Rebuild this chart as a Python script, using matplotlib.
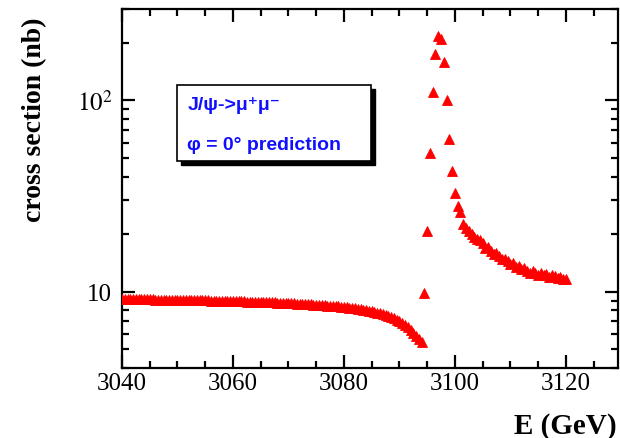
import matplotlib
matplotlib.use("Agg")
import matplotlib.pyplot as plt
from matplotlib.patches import Rectangle
from matplotlib.ticker import MultipleLocator, LogLocator, NullFormatter, FixedLocator, FixedFormatter

plt.rcParams['mathtext.fontset'] = 'stix'

# 扫描能量点 (GeV) —— 共振峰以下的连续部分
e_low = [
    3040.0, 3040.5, 3041.0, 3041.5, 3042.0, 3042.5, 3043.0, 3043.5, 3044.0, 3044.5,
    3045.0, 3045.5, 3046.0, 3046.5, 3047.0, 3047.5, 3048.0, 3048.5, 3049.0, 3049.5,
    3050.0, 3050.5, 3051.0, 3051.5, 3052.0, 3052.5, 3053.0, 3053.5, 3054.0, 3054.5,
    3055.0, 3055.5, 3056.0, 3056.5, 3057.0, 3057.5, 3058.0, 3058.5, 3059.0, 3059.5,
    3060.0, 3060.5, 3061.0, 3061.5, 3062.0, 3062.5, 3063.0, 3063.5, 3064.0, 3064.5,
    3065.0, 3065.5, 3066.0, 3066.5, 3067.0, 3067.5, 3068.0, 3068.5, 3069.0, 3069.5,
    3070.0, 3070.5, 3071.0, 3071.5, 3072.0, 3072.5, 3073.0, 3073.5, 3074.0, 3074.5,
    3075.0, 3075.5, 3076.0, 3076.5, 3077.0, 3077.5, 3078.0, 3078.5, 3079.0, 3079.5,
    3080.0, 3080.5, 3081.0, 3081.5, 3082.0, 3082.5, 3083.0, 3083.5, 3084.0, 3084.5,
    3085.0, 3085.5, 3086.0, 3086.5, 3087.0, 3087.5, 3088.0, 3088.5, 3089.0, 3089.5,
    3090.0, 3090.5, 3091.0, 3091.5, 3092.0, 3092.5, 3093.0, 3093.5, 3094.0,
]
xs_low = [
    9.16, 9.16, 9.15, 9.15, 9.15, 9.14, 9.14, 9.13, 9.13, 9.13,
    9.12, 9.12, 9.11, 9.11, 9.10, 9.10, 9.09, 9.09, 9.08, 9.08,
    9.07, 9.07, 9.06, 9.06, 9.05, 9.04, 9.04, 9.03, 9.03, 9.02,
    9.01, 9.01, 9.00, 8.99, 8.99, 8.98, 8.97, 8.96, 8.96, 8.95,
    8.94, 8.93, 8.93, 8.92, 8.91, 8.90, 8.89, 8.88, 8.87, 8.86,
    8.85, 8.84, 8.83, 8.82, 8.81, 8.80, 8.78, 8.77, 8.76, 8.74,
    8.73, 8.71, 8.70, 8.68, 8.67, 8.65, 8.63, 8.61, 8.59, 8.57,
    8.55, 8.53, 8.51, 8.49, 8.47, 8.45, 8.43, 8.41, 8.39, 8.36,
    8.33, 8.30, 8.27, 8.24, 8.20, 8.16, 8.12, 8.08, 8.03, 7.98,
    7.93, 7.86, 7.79, 7.72, 7.64, 7.56, 7.47, 7.37, 7.26, 7.14,
    7.01, 6.87, 6.71, 6.53, 6.34, 6.13, 5.90, 5.68, 5.50,
]

# 共振峰及其右侧
e_high = [
    3094.5, 3095.0, 3095.5, 3096.0, 3096.5, 3097.0, 3097.5, 3098.0, 3098.5, 3099.0,
    3099.5, 3100.0, 3100.5, 3101.0, 3101.5, 3102.0, 3102.5, 3103.0, 3103.5, 3104.0,
    3104.5, 3105.0, 3105.5, 3106.0, 3106.5, 3107.0, 3107.5, 3108.0, 3108.5, 3109.0,
    3109.5, 3110.0, 3110.5, 3111.0, 3111.5, 3112.0, 3112.5, 3113.0, 3113.5, 3114.0,
    3114.5, 3115.0, 3115.5, 3116.0, 3116.5, 3117.0, 3117.5, 3118.0, 3118.5, 3119.0,
    3119.5, 3120.0,
]
xs_high = [
    9.9, 20.9, 53.0, 110.0, 174.0, 218.0, 208.0, 158.0, 101.0, 63.0,
    43.0, 33.0, 28.0, 26.0, 22.6, 21.5, 20.9, 20.0, 19.3, 18.8,
    18.6, 17.9, 17.0, 17.2, 16.4, 15.8, 15.9, 15.3, 14.8, 14.9,
    14.4, 14.0, 14.1, 13.5, 13.6, 13.2, 13.3, 12.8, 12.6, 12.9,
    12.5, 12.3, 12.6, 12.2, 12.4, 12.0, 12.2, 12.1, 11.8, 11.9,
    11.6, 11.7,
]

x_major = [3040, 3060, 3080, 3100, 3120]
y_major = [10, 100]
y_major_labels = ["10", r"$10^{2}$"]

W, H = 620, 439
fig = plt.figure(figsize=(W / 100, H / 100), dpi=100)
ax = fig.add_axes([122 / W, 70 / H, 496 / W, 359 / H])

ax.plot(e_low + e_high, xs_low + xs_high, linestyle="none", marker="^",
        markersize=7.2, color="#ff0000", markeredgecolor="#ff0000",
        markeredgewidth=0.6, zorder=5)

ax.set_yscale("log")
ax.set_xlim(3040, 3129.4)
ax.set_ylim(4, 300)

ax.xaxis.set_major_locator(FixedLocator(x_major))
ax.xaxis.set_minor_locator(MultipleLocator(5))
ax.yaxis.set_major_locator(FixedLocator(y_major))
ax.yaxis.set_major_formatter(FixedFormatter(y_major_labels))
ax.yaxis.set_minor_locator(LogLocator(base=10, subs=range(2, 10)))
ax.yaxis.set_minor_formatter(NullFormatter())

for s in ax.spines.values():
    s.set_linewidth(1.6)

ax.tick_params(which="both", direction="in", top=True, right=True, width=1.6)
ax.tick_params(which="major", length=9.5)
ax.tick_params(which="minor", length=5)
ax.tick_params(axis="x", which="major", pad=3)
ax.tick_params(axis="y", which="major", pad=7)
for lab in ax.get_xticklabels() + ax.get_yticklabels():
    lab.set_fontfamily("Liberation Serif")
    lab.set_fontsize(18)

# 坐标轴标题
fig.text(35 / W, 1 - 120 / H, "cross section (nb)", rotation=90,
         ha="center", va="center", family="Liberation Serif",
         fontweight="bold", fontsize=20)
fig.text(617 / W, 5 / H, "E (GeV)", ha="right", va="baseline",
         family="Liberation Serif", fontweight="bold", fontsize=21)

# 图例框（带阴影）
bx, by, bw, bh = 177, 86, 194, 76
fig.patches.append(Rectangle(((bx + 4) / W, 1 - (by + bh + 4) / H), bw / W, bh / H,
                             transform=fig.transFigure, facecolor="black",
                             edgecolor="black", zorder=8))
fig.patches.append(Rectangle((bx / W, 1 - (by + bh) / H), bw / W, bh / H,
                             transform=fig.transFigure, facecolor="white",
                             edgecolor="black", linewidth=1.2, zorder=9))
fig.text(188 / W, 1 - 105 / H, "J/ψ->μ⁺μ⁻", ha="left", va="center",
         color="#1010ff", fontweight="bold", fontsize=14,
         family=["Liberation Sans", "DejaVu Sans"], zorder=10)
fig.text(187 / W, 1 - 145 / H, "φ = 0° prediction", ha="left", va="center",
         color="#1010ff", fontweight="bold", fontsize=14,
         family=["Liberation Sans", "DejaVu Sans"], zorder=10)

fig.savefig("out.png", dpi=100)
